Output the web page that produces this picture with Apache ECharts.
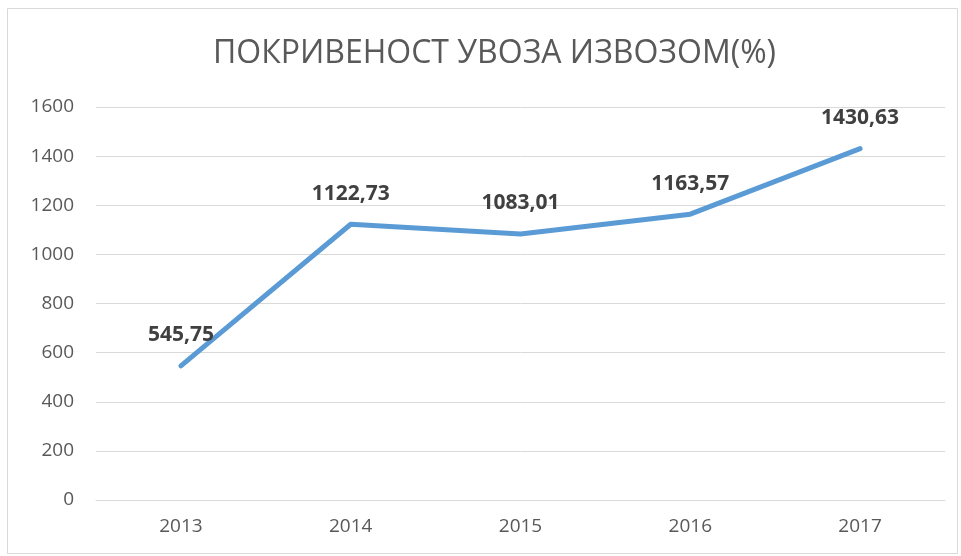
<!DOCTYPE html>
<html>
<head>
  <meta charset="utf-8">
  <title>ПОКРИВЕНОСТ УВОЗА ИЗВОЗОМ(%)</title>
  <script src="https://cdn.jsdelivr.net/npm/echarts@6/dist/echarts.min.js"></script>
  <style>
    html, body { margin: 0; padding: 0; background: #fff; }
    #chart { width: 961px; height: 556px; }
  </style>
</head>
<body>
  <div id="chart"></div>
  <script>
    // podaci
    const years = ['2013', '2014', '2015', '2016', '2017'];
    const coverage = [545.75, 1122.73, 1083.01, 1163.57, 1430.63];
    const yTicks = [0, 200, 400, 600, 800, 1000, 1200, 1400, 1600];

    let myChart = echarts.init(document.getElementById('chart'));
    let option = {
      backgroundColor: '#fff',
      animation: false,
      title: {
        text: 'ПОКРИВЕНОСТ УВОЗА ИЗВОЗОМ(%)',
        left: 208,
        top: 33,
        textStyle: {
          fontFamily: 'Open Sans',
          fontWeight: 'normal',
          fontSize: 32,
          color: '#595959'
        }
      },
      graphic: [{
        type: 'rect',
        shape: { x: 7.5, y: 8.5, width: 950, height: 545 },
        style: { fill: 'none', stroke: '#d9d9d9', lineWidth: 1 },
        silent: true
      }],
      grid: { left: 96, right: 16, top: 107, bottom: 56 },
      xAxis: {
        type: 'category',
        data: years,
        boundaryGap: true,
        axisLine: { show: true, lineStyle: { color: '#d9d9d9', width: 1 } },
        axisTick: { show: false },
        axisLabel: {
          color: '#595959',
          fontSize: 19,
          fontFamily: 'Open Sans',
          margin: 17
        }
      },
      yAxis: {
        type: 'value',
        min: yTicks[0],
        max: yTicks[yTicks.length - 1],
        interval: 200,
        axisLine: { show: false },
        axisTick: { show: false },
        splitLine: { lineStyle: { color: '#d9d9d9', width: 1 } },
        axisLabel: {
          color: '#595959',
          fontSize: 19,
          fontFamily: 'Open Sans',
          margin: 22,
          formatter: function (v) { return String(v); }
        }
      },
      series: [{
        type: 'line',
        data: coverage,
        showSymbol: true,
        symbol: 'circle',
        symbolSize: 2,
        itemStyle: { color: '#5b9bd5' },
        lineStyle: { color: '#5b9bd5', width: 5, cap: 'round', join: 'round' },
        label: {
          show: true,
          position: 'top',
          distance: 19,
          color: '#404040',
          fontWeight: 'bold',
          fontSize: 21,
          fontFamily: 'Open Sans',
          formatter: function (p) {
            return p.value.toFixed(2).replace('.', ',');
          }
        }
      }]
    };
    myChart.setOption(option);
  </script>
</body>
</html>
